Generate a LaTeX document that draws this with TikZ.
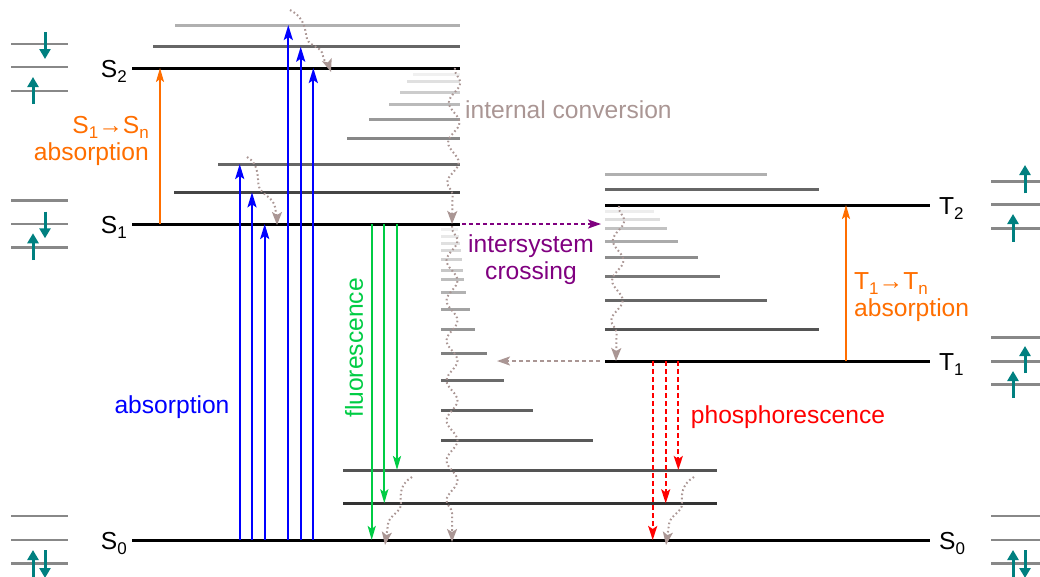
\documentclass[tikz,border=0pt]{standalone}
\usepackage{fontspec}
\setmainfont{Liberation Sans}
\usetikzlibrary{arrows.meta,decorations.pathmorphing}
\definecolor{tealc}{RGB}{0,128,128}
\definecolor{icc}{RGB}{170,150,148}
\definecolor{orng}{RGB}{255,110,0}
\definecolor{grn}{RGB}{0,204,68}
\definecolor{purp}{RGB}{128,0,128}
\definecolor{orbc}{RGB}{136,136,136}
\newcommand{\lsub}[1]{\raisebox{-0.22em}{\fontsize{17}{17}\selectfont #1}}
\begin{document}
\begin{tikzpicture}[x=1pt,y=-1pt,
  lvl/.style={line width=3pt,black},
  vib/.style={line width=3pt},
  orb/.style={line width=2.5pt,orbc},
  elec/.style={line width=3pt,tealc,-{Triangle[length=10pt,width=11pt]}},
  absb/.style={line width=2.2pt,blue,-{Stealth[length=15pt,width=9pt,inset=3pt]}},
  absor/.style={line width=2pt,orng,-{Stealth[length=14pt,width=8pt,inset=3pt]}},
  fluo/.style={line width=2.2pt,grn,-{Stealth[length=14pt,width=8pt,inset=3pt]}},
  phos/.style={line width=2.2pt,red,dash pattern=on 5pt off 3pt,-{Stealth[length=14pt,width=9pt,inset=3pt]}},
  isc/.style={line width=2pt,purp,dash pattern=on 4pt off 3pt,-{Stealth[length=13pt,width=9pt,inset=3pt]}},
  relax/.style={line width=2pt,icc,dash pattern=on 4pt off 3pt,-{Stealth[length=13pt,width=9pt,inset=3pt]}},
  wavy/.style={line width=2pt,icc,dash pattern=on 1.6pt off 2.6pt,-{Stealth[length=13pt,width=10pt,inset=3pt]}},
  snk/.style={wavy,decorate,decoration={snake,amplitude=5.5pt,segment length=40pt,post length=10pt,pre length=2pt}},
  txt/.style={font=\fontsize{24.6}{27}\selectfont,inner sep=0pt},
]
\useasboundingbox (0,0) rectangle (1040,576);

% ---------- electron configuration sketches ----------
\foreach \y in {44,67,91,200.7,224,247.3,516,540,563.3}{
  \draw[orb] (11,\y) -- (68,\y);}
\foreach \y in {181.7,204.3,228.3,337.3,361.3,384.7,516,540,563.3}{
  \draw[orb] (991,\y) -- (1042,\y);}
% S2
\draw[elec] (45,32) -- (45,59);
\draw[elec] (33,104) -- (33,77);
% S1
\draw[elec] (45,211.7) -- (45,238.3);
\draw[elec] (33,260) -- (33,233.3);
% S0 left
\draw[elec] (33,578) -- (33,550);
\draw[elec] (45,550) -- (45,578);
% T2
\draw[elec] (1025,193.3) -- (1025,165);
\draw[elec] (1013,241.7) -- (1013,214);
% T1
\draw[elec] (1025,373) -- (1025,346);
\draw[elec] (1013,398) -- (1013,371);
% S0 right
\draw[elec] (1013,578) -- (1013,550);
\draw[elec] (1025,550) -- (1025,578);

% ---------- vibrational levels ----------
\foreach \y/\a/\b/\g in {25/175/460/69, 46.7/153/460/40, 74/413/460/94, 81.7/407/460/88,
  92.3/400/460/80, 104/389/460/73, 119.3/369/460/60, 138.3/347/460/53,
  164/218/460/40, 192.3/174/460/27}{
  \draw[vib,black!\the\numexpr100-\g\relax] (\a,\y) -- (\b,\y);}
\foreach \y/\b/\g in {229.3/458/94, 236.7/459/91, 243.3/460/88, 250.7/461/85, 259.3/462/82,
  270/463/78, 279.3/464/74, 292.7/466/70, 309.3/470/64, 329.3/475/58,
  353.3/487/50, 380/504/42, 410/533/38, 440/593/35}{
  \draw[vib,black!\the\numexpr100-\g\relax] (441,\y) -- (\b,\y);}
\foreach \y/\b/\g in {174/767/69, 189.3/819/40, 211/654/93, 219/660/87, 228.3/667/76,
  241/678/67, 257/698/55, 276/720/47, 300.7/767/40, 329.7/819/33}{
  \draw[vib,black!\the\numexpr100-\g\relax] (605,\y) -- (\b,\y);}
\draw[vib,black!67] (343,470) -- (717,470);
\draw[vib,black!80] (343,503.3) -- (717,503.3);

% ---------- electronic levels ----------
\coordinate (S2a) at (132,68);  \coordinate (S2b) at (460,68);
\coordinate (S1a) at (132,224); \coordinate (S1b) at (460,224);
\coordinate (S0a) at (132,540); \coordinate (S0b) at (930,540);
\coordinate (T2a) at (605,205); \coordinate (T2b) at (930,205);
\coordinate (T1a) at (605,361); \coordinate (T1b) at (930,361);
\draw[lvl] (S2a) -- (S2b);
\draw[lvl] (S1a) -- (S1b);
\draw[lvl] (S0a) -- (S0b);
\draw[lvl] (T2a) -- (T2b);
\draw[lvl] (T1a) -- (T1b);

\node[txt,anchor=base east] (lS2) at (127,77) {S\lsub{2}};
\node[txt,anchor=base east] (lS1) at (127,233) {S\lsub{1}};
\node[txt,anchor=base east] (lS0) at (127,549) {S\lsub{0}};
\node[txt,anchor=base west] (lT2) at (939,214) {T\lsub{2}};
\node[txt,anchor=base west] (lT1) at (939,370) {T\lsub{1}};
\node[txt,anchor=base west] (lS0r) at (939,549) {S\lsub{0}};

% ---------- absorption ----------
\foreach \x/\t in {239.7/164,252/192.3,264.7/224,288.3/25,300.7/46.7,313.3/68}{
  \draw[absb] (\x,540) -- (\x,\t);}
\node[txt,blue] (tabs) at (172,407) {absorption};

% ---------- S1->Sn, T1->Tn ----------
\draw[absor] (160,224) -- (160,68);
\draw[absor] (846,361) -- (846,205);
\node[txt,orng,anchor=base east] (tSn) at (149,133) {S\lsub{1}→S\lsub{n}};
\node[txt,orng,anchor=base east] (tSa) at (149,160) {absorption};
\node[txt,orng,anchor=base west] (tTn) at (854,289) {T\lsub{1}→T\lsub{n}};
\node[txt,orng,anchor=base west] (tTa) at (854,316) {absorption};

% ---------- fluorescence ----------
\foreach \x/\t in {371.7/540,384.3/503.3,397/470}{
  \draw[fluo] (\x,224) -- (\x,\t);}
\node[txt,grn,rotate=90] (tfl) at (354,348) {fluorescence};

% ---------- phosphorescence ----------
\foreach \x/\t in {652.7/540,665.7/503.3,678.3/470}{
  \draw[phos] (\x,361) -- (\x,\t);}
\node[txt,red] (tph) at (788,417) {phosphorescence};

% ---------- intersystem crossing ----------
\coordinate (iscA) at (462,224);
\coordinate (iscB) at (601,224);
\draw[isc] (iscA) -- (iscB);
\node[txt,purp,align=center] (tisc) at (531,260) {intersystem\\crossing};
\coordinate (rlA) at (600,361);
\coordinate (rlB) at (497,361);
\draw[relax] (rlA) -- (rlB);

% ---------- internal conversion / vibrational relaxation ----------
\draw[snk] (455,68) -- (452,224);
\draw[snk] (452,226) -- (452,542);
\draw[snk] (619,206) -- (616,361);
\node[txt,icc,anchor=west] (tic) at (465,110) {internal conversion};

\draw[wavy] (290,10) .. controls (306,18) and (305,32) .. (307,39)
  .. controls (310,47) and (322,46) .. (323,56) .. controls (324,62) and (329,66) .. (331,72);
\draw[wavy] (247,157) .. controls (260,164) and (257,180) .. (259,187)
  .. controls (262,195) and (273,197) .. (275,207) .. controls (276,213) and (277,218) .. (277,225);
\draw[wavy] (412,477) .. controls (400,484) and (400,495) .. (401,503)
  .. controls (402,512) and (389,515) .. (388,524) .. controls (387,532) and (386,538) .. (385,545);
\draw[wavy] (694,477) .. controls (682,484) and (681,495) .. (682,503)
  .. controls (683,512) and (670,515) .. (669,524) .. controls (668,532) and (667,538) .. (666,545);
\end{tikzpicture}
\end{document}
